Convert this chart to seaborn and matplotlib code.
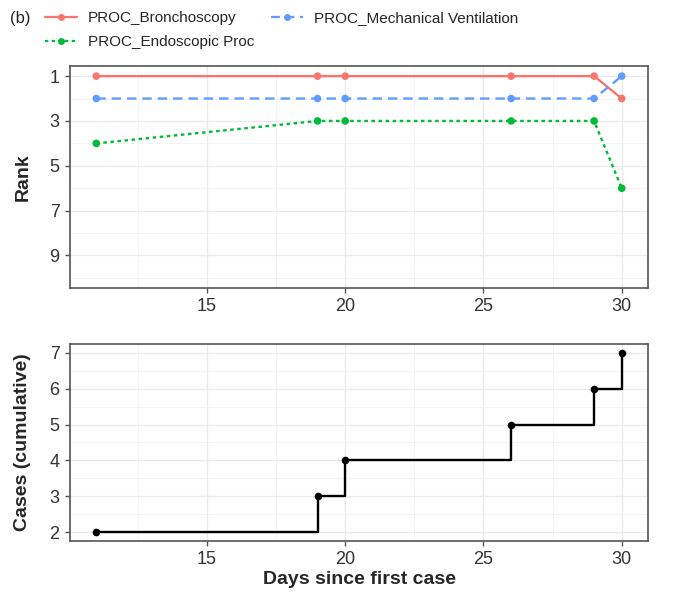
import numpy as np
import pandas as pd
import seaborn as sns
import matplotlib.pyplot as plt
from matplotlib.lines import Line2D

days = [11, 19, 20, 26, 29, 30]
rank_bronch = [1, 1, 1, 1, 1, 2]
rank_endo = [4, 3, 3, 3, 3, 6]
rank_mech = [2, 2, 2, 2, 2, 1]
cases = [2, 3, 4, 5, 6, 7]

procs = ['PROC_Bronchoscopy', 'PROC_Endoscopic Proc', 'PROC_Mechanical Ventilation']
colors = {'PROC_Bronchoscopy': '#F8766D',
          'PROC_Endoscopic Proc': '#00BA38',
          'PROC_Mechanical Ventilation': '#619CFF'}
dashes = {'PROC_Bronchoscopy': '',
          'PROC_Endoscopic Proc': (1.5, 1.5),
          'PROC_Mechanical Ventilation': (4, 2.5)}

rank_df = pd.DataFrame({
    'Day': days * 3,
    'Rank': rank_bronch + rank_endo + rank_mech,
    'Proc': [p for p in procs for _ in days],
})
case_df = pd.DataFrame({'Day': days, 'Cases': cases})

sns.set_style('white')
plt.rcParams['font.family'] = ['Liberation Sans', 'DejaVu Sans']

fig = plt.figure(figsize=(6.76, 5.97), dpi=100)
ax1 = fig.add_axes([0.1036, 0.5176, 0.855, 0.3718])
ax2 = fig.add_axes([0.1036, 0.0938, 0.855, 0.33])

# top panel: rank
sns.lineplot(data=rank_df, x='Day', y='Rank', hue='Proc', style='Proc',
             palette=colors, dashes=dashes, hue_order=procs, style_order=procs,
             ax=ax1, legend=False, linewidth=1.7)
sns.scatterplot(data=rank_df, x='Day', y='Rank', hue='Proc', palette=colors,
                hue_order=procs, ax=ax1, legend=False, s=30, linewidth=0, zorder=3)
ax1.set_xlim(10.05, 30.95)
ax1.set_ylim(10.45, 0.55)
ax1.set_yticks([1, 3, 5, 7, 9])
ax1.set_yticks([2, 4, 6, 8, 10], minor=True)
ax1.set_xticks([15, 20, 25, 30])
ax1.set_xticks([12.5, 17.5, 22.5, 27.5], minor=True)
ax1.set_xlabel('')
ax1.set_ylabel('Rank', fontsize=14, fontweight='bold')

# bottom panel: cumulative cases
sns.lineplot(data=case_df, x='Day', y='Cases', color='black', ax=ax2,
             drawstyle='steps-post', linewidth=1.7)
sns.scatterplot(data=case_df, x='Day', y='Cases', color='black', ax=ax2,
                s=30, linewidth=0, zorder=3)
ax2.set_xlim(10.05, 30.95)
ax2.set_ylim(1.75, 7.25)
ax2.set_yticks([2, 3, 4, 5, 6, 7])
ax2.set_yticks([2.5, 3.5, 4.5, 5.5, 6.5], minor=True)
ax2.set_xticks([15, 20, 25, 30])
ax2.set_xticks([12.5, 17.5, 22.5, 27.5], minor=True)
ax2.set_xlabel('Days since first case', fontsize=14, fontweight='bold', labelpad=2)
ax2.set_ylabel('Cases (cumulative)', fontsize=14, fontweight='bold')

for ax in (ax1, ax2):
    ax.grid(which='major', color='#EBEBEB', linewidth=1.0)
    ax.grid(which='minor', color='#F3F3F3', linewidth=0.6)
    ax.set_axisbelow(True)
    for sp in ax.spines.values():
        sp.set_color('#555555')
        sp.set_linewidth(1.2)
    ax.tick_params(which='major', length=3.5, width=1, color='#555555', pad=4,
                   labelsize=13, labelcolor='#333333', left=True, bottom=True)
    ax.tick_params(which='minor', length=0)
    ax.yaxis.set_label_coords(-0.067, 0.5)

handles = []
for p in procs:
    h = Line2D([0], [0], color=colors[p], marker='o', markersize=4, linewidth=1.6)
    if dashes[p]:
        h.set_dashes(dashes[p])
    handles.append(h)
fig.legend(handles, procs, ncol=2, loc='upper left',
           bbox_to_anchor=(45 / 676, 1 - 11 / 597), borderpad=0, borderaxespad=0,
           frameon=False, fontsize=11, handlelength=2.1, columnspacing=1.1,
           labelspacing=0.65, handletextpad=0.7)
fig.text(0.015, 1 - 18 / 597, '(b)', fontsize=12, va='center')

fig.savefig('out.png', dpi=100)
